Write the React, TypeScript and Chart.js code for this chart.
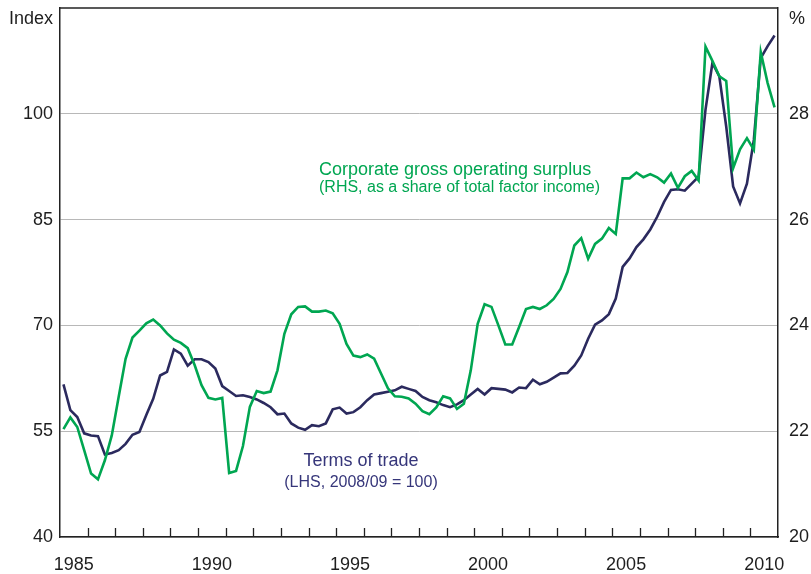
import React, { useEffect, useRef } from "react";
import { Chart, registerables } from "chart.js";

Chart.register(...registerables);

// Quarterly observations, March 1985 quarter to December 2010 quarter
const startYear = 1985;
const quarterCount = 104;
const quarterPositions: number[] = Array.from({ length: quarterCount }, (_, i) => startYear + 0.125 + i * 0.25);

// Terms of trade (LHS, 2008/09 = 100)
const termsOfTrade: number[] = [
  61.65, 58.0, 57.0, 54.7, 54.4, 54.3, 51.7, 51.9, 52.3, 53.2, 54.5, 54.9,
  57.3, 59.6, 62.9, 63.4, 66.6, 66.0, 64.3, 65.2, 65.2, 64.8, 63.9, 61.4,
  60.7, 60.0, 60.1, 59.85, 59.5, 59.0, 58.4, 57.4, 57.5, 56.1, 55.5, 55.2,
  55.85, 55.7, 56.1, 58.1, 58.35, 57.5, 57.7, 58.4, 59.4, 60.2, 60.4, 60.6,
  60.8, 61.3, 61.0, 60.7, 59.85, 59.4, 59.1, 58.7, 58.4, 58.8, 59.4, 60.2,
  61.0, 60.2, 61.1, 61.0, 60.9, 60.5, 61.2, 61.1, 62.3, 61.65, 62.0, 62.6,
  63.2, 63.25, 64.3, 65.75, 68.1, 70.1, 70.7, 71.6, 73.8, 78.3, 79.5, 81.1,
  82.2, 83.6, 85.4, 87.5, 89.2, 89.3, 89.1, 90.1, 91.1, 100.6, 107.2, 105.3,
  98.2, 89.7, 87.3, 90.1, 96.3, 107.9, 109.6, 111.1,
];

// Corporate gross operating surplus (RHS, % of total factor income)
const corporateGos: number[] = [
  22.04, 22.26, 22.08, 21.64, 21.2, 21.09, 21.45, 21.92, 22.65, 23.37, 23.77, 23.9,
  24.04, 24.11, 24.0, 23.85, 23.73, 23.67, 23.57, 23.25, 22.87, 22.63, 22.6, 22.63,
  21.21, 21.25, 21.72, 22.46, 22.76, 22.72, 22.75, 23.15, 23.84, 24.21, 24.35, 24.36,
  24.26, 24.26, 24.28, 24.23, 24.03, 23.65, 23.43, 23.4, 23.45, 23.37, 23.09, 22.81,
  22.66, 22.65, 22.62, 22.52, 22.38, 22.32, 22.45, 22.66, 22.62, 22.42, 22.52, 23.15,
  24.03, 24.4, 24.35, 24.0, 23.64, 23.64, 23.97, 24.31, 24.35, 24.31, 24.38, 24.5,
  24.69, 25.01, 25.51, 25.65, 25.26, 25.54, 25.64, 25.84, 25.73, 26.78, 26.78, 26.89,
  26.8, 26.86, 26.8, 26.7, 26.87, 26.6, 26.82, 26.92, 26.74, 29.27, 29.0, 28.71,
  28.62, 26.97, 27.33, 27.54, 27.32, 29.17, 28.58, 28.12,
];

const yearLabels: number[] = [1985, 1990, 1995, 2000, 2005, 2010];
const minorYears: number[] = Array.from({ length: 25 }, (_, i) => 1986 + i);
const leftTicks: number[] = [40, 55, 70, 85, 100];
const rightTicks: number[] = [20, 22, 24, 26, 28];

const GREEN = "#00a651";
const NAVY = "#2b2a5e";
const NAVY_TEXT = "#36367a";
const TEXT = "#1e1e1e";
const FONT = "'Liberation Sans', Arial, sans-serif";

const decorPlugin = {
  id: "decor",
  afterDraw(chart: any) {
    const { ctx, chartArea } = chart;
    const xs = chart.scales.x;
    ctx.save();
    // frame top
    ctx.strokeStyle = "#222";
    ctx.lineWidth = 1.5;
    ctx.beginPath();
    ctx.moveTo(chartArea.left, chartArea.top);
    ctx.lineTo(chartArea.right, chartArea.top);
    ctx.stroke();
    // inward year ticks
    ctx.lineWidth = 1.3;
    ctx.beginPath();
    for (const y of minorYears) {
      const px = Math.round(xs.getPixelForValue(y)) + 0.5;
      ctx.moveTo(px, chartArea.bottom);
      ctx.lineTo(px, chartArea.bottom - 9);
    }
    ctx.stroke();
    // unit labels
    ctx.fillStyle = TEXT;
    ctx.font = `18px ${FONT}`;
    ctx.textBaseline = "alphabetic";
    ctx.textAlign = "right";
    ctx.fillText("Index", 53, 24);
    ctx.textAlign = "left";
    ctx.fillText("%", 789, 24);
    // series annotations
    ctx.fillStyle = GREEN;
    ctx.textAlign = "left";
    ctx.font = `18px ${FONT}`;
    ctx.fillText("Corporate gross operating surplus", 319, 175);
    ctx.font = `16px ${FONT}`;
    ctx.fillText("(RHS, as a share of total factor income)", 319, 192);
    ctx.fillStyle = NAVY_TEXT;
    ctx.textAlign = "center";
    ctx.font = `18px ${FONT}`;
    ctx.fillText("Terms of trade", 361, 466);
    ctx.font = `16px ${FONT}`;
    ctx.fillText("(LHS, 2008/09 = 100)", 361, 487);
    ctx.restore();
  },
};

export default function App() {
  const canvasRef = useRef<HTMLCanvasElement | null>(null);

  useEffect(() => {
    const canvas = canvasRef.current;
    if (!canvas) return;
    const chart = new Chart(canvas, {
      type: "line",
      data: {
        datasets: [
          {
            label: "Corporate gross operating surplus",
            data: corporateGos.map((v, i) => ({ x: quarterPositions[i], y: v })),
            borderColor: GREEN,
            borderWidth: 2.6,
            pointRadius: 0,
            tension: 0,
            yAxisID: "y1",
          },
          {
            label: "Terms of trade",
            data: termsOfTrade.map((v, i) => ({ x: quarterPositions[i], y: v })),
            borderColor: NAVY,
            borderWidth: 2.6,
            pointRadius: 0,
            tension: 0,
            yAxisID: "y",
          },
        ],
      },
      options: {
        responsive: false,
        animation: false,
        devicePixelRatio: 1,
        layout: { padding: { top: 8, left: 0, right: 0, bottom: 0 } },
        plugins: { legend: { display: false }, tooltip: { enabled: false } },
        scales: {
          x: {
            type: "linear",
            position: "bottom",
            min: 1985,
            max: 2011,
            afterBuildTicks: (s: any) => {
              s.ticks = yearLabels.map((y) => ({ value: y + 0.5 }));
            },
            afterFit: (s: any) => {
              s.height = 37;
              s.paddingLeft = 0;
              s.paddingRight = 0;
            },
            ticks: {
              autoSkip: false,
              maxRotation: 0,
              padding: 17,
              color: TEXT,
              font: { family: FONT, size: 18 },
              callback: (v: any) => String(Math.floor(Number(v))),
            },
            grid: { drawOnChartArea: false, drawTicks: false },
            border: { display: true, color: "#222", width: 1.5 },
          },
          y: {
            type: "linear",
            position: "left",
            min: 40,
            max: 115,
            afterBuildTicks: (s: any) => {
              s.ticks = leftTicks.map((v) => ({ value: v }));
            },
            afterFit: (s: any) => {
              s.width = 60;
              s.paddingTop = 0;
              s.paddingBottom = 0;
            },
            ticks: {
              padding: 7,
              color: TEXT,
              font: { family: FONT, size: 18 },
            },
            grid: { color: "#b8b8b8", lineWidth: 1, drawTicks: false },
            border: { display: true, color: "#222", width: 1.5 },
          },
          y1: {
            type: "linear",
            position: "right",
            min: 20,
            max: 30,
            afterBuildTicks: (s: any) => {
              s.ticks = rightTicks.map((v) => ({ value: v }));
            },
            afterFit: (s: any) => {
              s.width = 33;
              s.paddingTop = 0;
              s.paddingBottom = 0;
            },
            ticks: {
              padding: 11,
              color: TEXT,
              font: { family: FONT, size: 18 },
            },
            grid: { drawOnChartArea: false, drawTicks: false },
            border: { display: true, color: "#222", width: 1.5 },
          },
        },
      },
      plugins: [decorPlugin],
    } as any);
    return () => chart.destroy();
  }, []);

  return (
    <div style={{ position: "fixed", left: 0, top: 0, width: 811, height: 574, background: "#fff" }}>
      <canvas ref={canvasRef} width={811} height={574} style={{ width: 811, height: 574, display: "block" }} />
    </div>
  );
}
